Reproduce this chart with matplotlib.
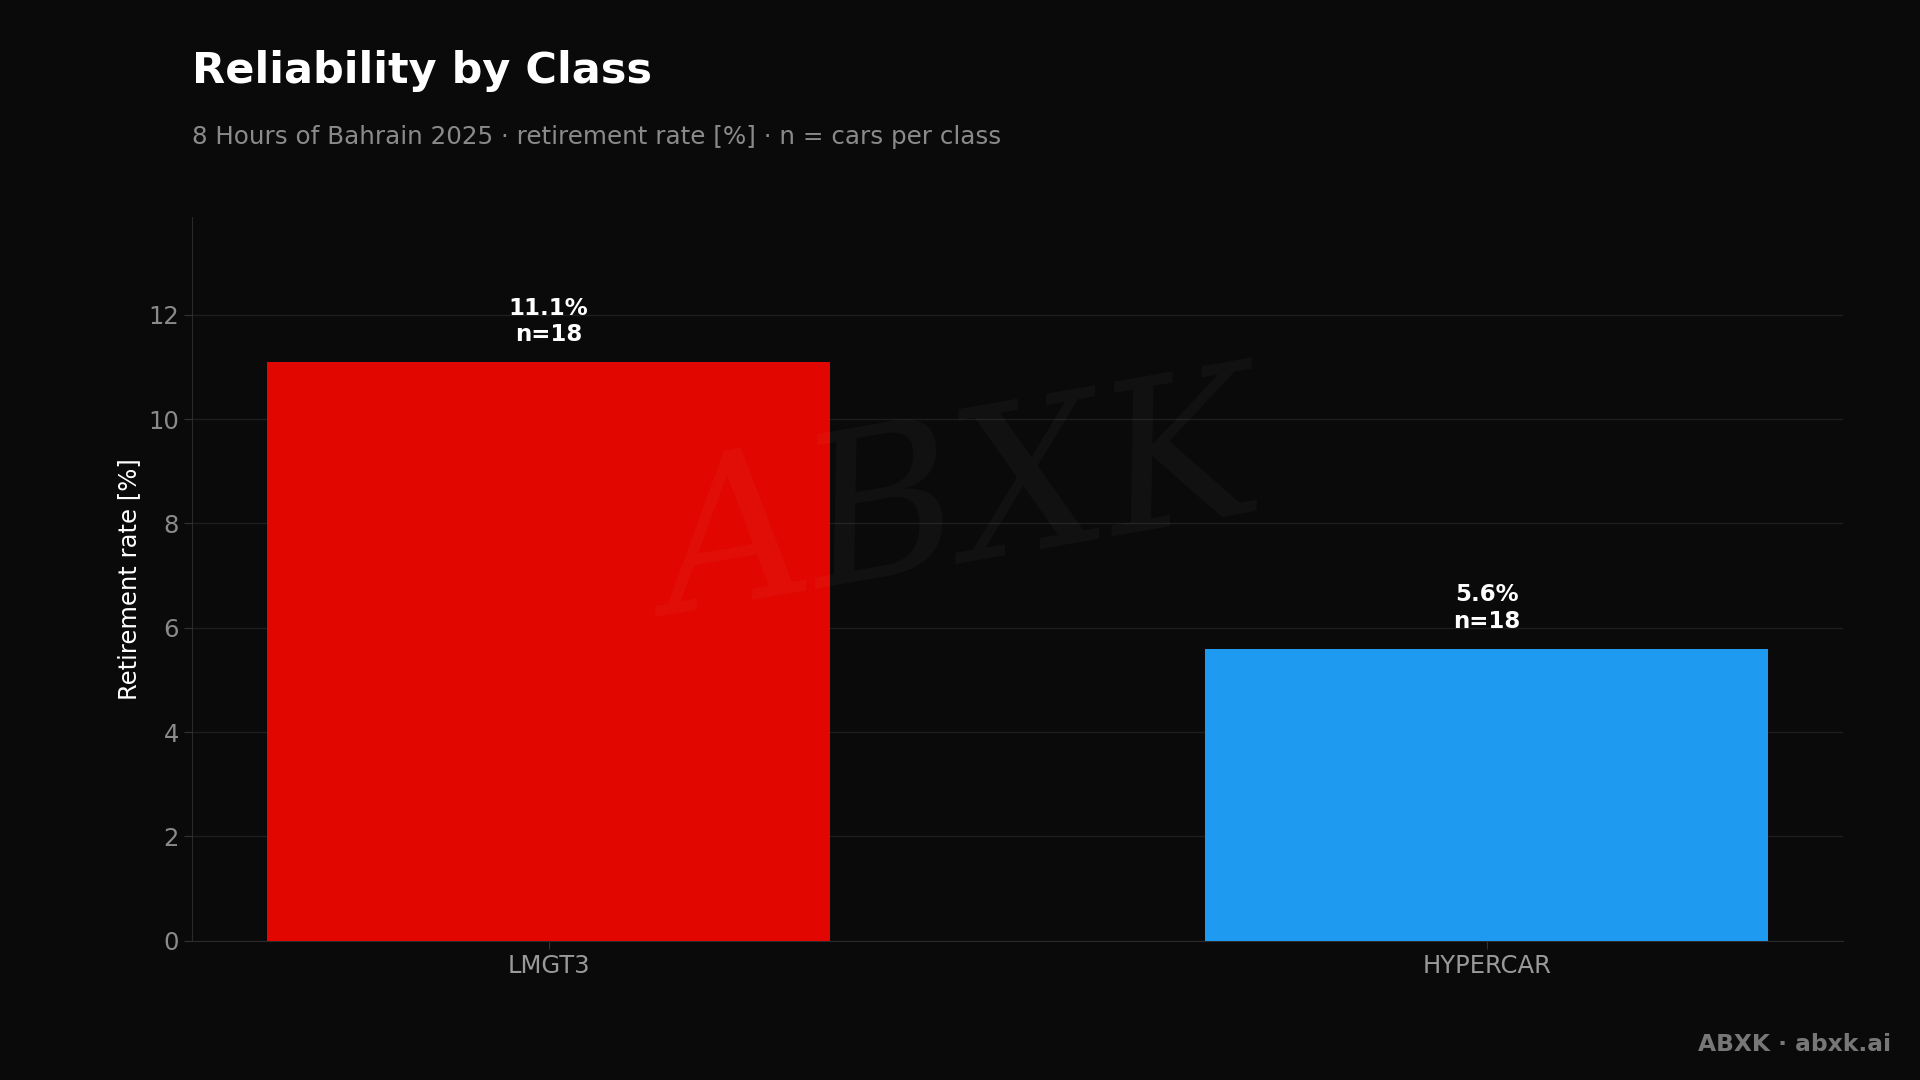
import matplotlib
matplotlib.use("Agg")
import matplotlib.pyplot as plt

plt.rcParams["font.family"] = ["DejaVu Sans"]

categories = ["LMGT3", "HYPERCAR"]
rates = [11.1, 5.6]
counts = [18, 18]
colors = ["#e10600", "#1e9bf0"]

BG = "#0a0a0a"
fig = plt.figure(figsize=(19.2, 10.8), dpi=100, facecolor=BG)
ax = fig.add_axes([0.100, 0.129, 0.860, 0.670], facecolor=BG)

x = list(range(len(categories)))
ax.bar(x, rates, width=0.6, color=colors, zorder=3)
for xi, r, n in zip(x, rates, counts):
    ax.text(xi, r + 0.3, f"{r:.1f}%\nn={n}", ha="center", va="bottom",
            color="white", fontsize=16.5, fontweight="bold", linespacing=1.2, zorder=4)

ax.set_xlim(-0.38, 1.38)
ax.set_ylim(0, 13.875)
ax.set_yticks([0, 2, 4, 6, 8, 10, 12])
ax.set_xticks(x)
ax.set_xticklabels(categories)
ax.tick_params(labelsize=17.5, length=6)
ax.tick_params(axis="x", colors="#333333", labelcolor="#9a9a9a")
ax.tick_params(axis="y", colors="#333333", labelcolor="#8a8a8a")
ax.grid(axis="y", color="#1e1e1e", linewidth=1, zorder=0)
for s in ["top", "right"]:
    ax.spines[s].set_visible(False)
for s in ["left", "bottom"]:
    ax.spines[s].set_color("#2a2a2a")
ax.set_ylabel("Retirement rate [%]", color="white", fontsize=17.5, labelpad=5)

# faint watermark
fig.text(0.50, 0.53, "ABXK", ha="center", va="center", fontsize=150, color="white",
         alpha=0.035, style="italic", family="DejaVu Serif", rotation=10, zorder=0)

fig.text(0.100, 0.934, "Reliability by Class", color="white", fontsize=31,
         fontweight="bold", ha="left", va="center")
fig.text(0.100, 0.873, "8 Hours of Bahrain 2025 · retirement rate [%] · n = cars per class",
         color="#8a8a8a", fontsize=17.7, ha="left", va="center")
fig.text(0.985, 0.033, "ABXK · abxk.ai", color="#777777", fontsize=16.8,
         fontweight="bold", ha="right", va="center")

fig.savefig("out.png", dpi=100, facecolor=BG)
